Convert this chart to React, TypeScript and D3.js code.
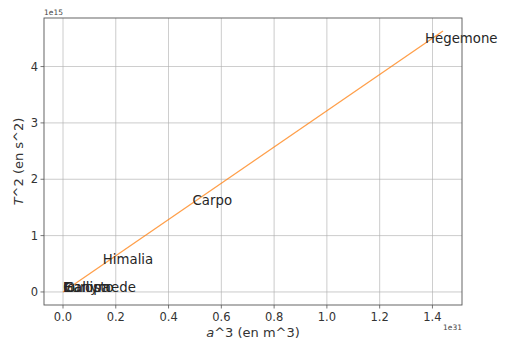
import React from "react";
import * as d3 from "d3";

const moons = ["Io", "Europa", "Ganymede", "Callisto", "Himalia", "Carpo", "Hegemone"];
const a3 = [0.0001e31, 0.0003e31, 0.0012e31, 0.0066e31, 0.151e31, 0.491e31, 1.372e31];
const T2 = [0.00001e15, 0.00009e15, 0.00038e15, 0.0021e15, 0.50e15, 1.54e15, 4.42e15];
const fitX = [0, 1.44e31];
const fitY = [0, 4.63e15];
const xTicks = [0, 0.2, 0.4, 0.6, 0.8, 1.0, 1.2, 1.4];
const yTicks = [0, 1, 2, 3, 4];

const W = 509, H = 341;
const L = 44, R = 462, T = 18, B = 305;
const font = "DejaVu Sans, sans-serif";

export default function App() {
  const x = d3.scaleLinear().domain([-0.072e31, 1.512e31]).range([L, R]);
  const y = d3.scaleLinear().domain([-0.2315e15, 4.8615e15]).range([B, T]);
  const line = d3.line<number>().x((d, i) => x(fitX[i])).y((d, i) => y(fitY[i]));
  return (
    <svg width={W} height={H} style={{ position: "absolute", left: 0, top: 0, background: "#fff" }}
      fontFamily={font}>
      <rect x={0} y={0} width={W} height={H} fill="#fff" />
      {xTicks.map(t => (
        <line key={"gx" + t} x1={x(t * 1e31)} x2={x(t * 1e31)} y1={T} y2={B} stroke="#b0b0b0" strokeWidth={0.8} opacity={0.8} />
      ))}
      {yTicks.map(t => (
        <line key={"gy" + t} x1={L} x2={R} y1={y(t * 1e15)} y2={y(t * 1e15)} stroke="#b0b0b0" strokeWidth={0.8} opacity={0.8} />
      ))}
      <path d={line(fitX) || ""} fill="none" stroke="#ff7f0e" strokeWidth={1.3} opacity={0.75} />
      {moons.map((m, i) => (
        <text key={m} x={x(a3[i])} y={y(T2[i])} fontSize={13.3} fill="#262626">{m}</text>
      ))}
      <rect x={L} y={T} width={R - L} height={B - T} fill="none" stroke="#555" strokeWidth={0.9} />
      {xTicks.map(t => (
        <g key={"tx" + t}>
          <line x1={x(t * 1e31)} x2={x(t * 1e31)} y1={B} y2={B + 3.5} stroke="#555" strokeWidth={0.8} />
          <text x={x(t * 1e31)} y={B + 15.5} fontSize={11.5} textAnchor="middle" fill="#333">{t.toFixed(1)}</text>
        </g>
      ))}
      {yTicks.map(t => (
        <g key={"ty" + t}>
          <line x1={L - 3.5} x2={L} y1={y(t * 1e15)} y2={y(t * 1e15)} stroke="#555" strokeWidth={0.8} />
          <text x={L - 6} y={y(t * 1e15) + 4} fontSize={11.5} textAnchor="end" fill="#333">{t}</text>
        </g>
      ))}
      <text x={L} y={15} fontSize={7.5} fill="#444">1e15</text>
      <text x={R} y={330} fontSize={7.5} fill="#444" textAnchor="end">1e31</text>
      <text x={(L + R) / 2} y={337} fontSize={13} textAnchor="middle" fill="#333">
        <tspan fontStyle="italic">a</tspan>^3 (en m^3)
      </text>
      <text transform={`translate(23,${(T + B) / 2}) rotate(-90)`} fontSize={13} textAnchor="middle" fill="#333">
        <tspan fontStyle="italic">T</tspan>^2 (en s^2)
      </text>
    </svg>
  );
}
